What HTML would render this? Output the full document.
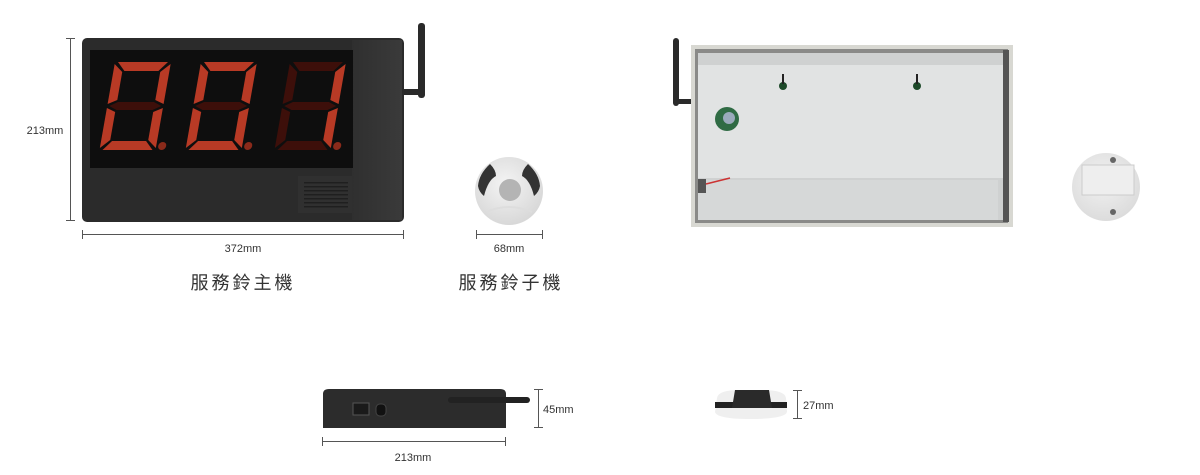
<!DOCTYPE html>
<html><head><meta charset="utf-8"><style>
html,body{margin:0;padding:0;background:#fff;}
svg{display:block;}
text{font-family:"Liberation Sans","Noto Sans CJK TC",sans-serif;fill:#333;}
</style></head><body>
<svg width="1200" height="475" viewBox="0 0 1200 475" xmlns="http://www.w3.org/2000/svg">
<defs>
<radialGradient id="btn" cx="0.45" cy="0.4" r="0.6"><stop offset="0" stop-color="#f4f4f4"/><stop offset="1" stop-color="#d8d8d8"/></radialGradient>
<radialGradient id="bk" cx="0.45" cy="0.4" r="0.6"><stop offset="0" stop-color="#f2f2f2"/><stop offset="1" stop-color="#dcdcdc"/></radialGradient>
<linearGradient id="side" x1="0" x2="1"><stop offset="0" stop-color="#2f2f2f"/><stop offset="1" stop-color="#3a3a3a"/></linearGradient>
</defs>
<rect width="1200" height="475" fill="#fff"/>

<!-- main device -->
<rect x="418" y="23" width="7" height="75" rx="3" fill="#2a2a2a"/>
<rect x="404" y="89" width="20" height="6" fill="#2a2a2a"/>
<rect x="82" y="38" width="322" height="184" rx="5" fill="#2b2b2b"/>
<rect x="352" y="40" width="50" height="180" fill="url(#side)"/>
<rect x="90" y="50" width="263" height="118" fill="#0e0e0e"/>
<rect x="298" y="176" width="54" height="37" fill="#303030"/>
<g fill="#1f1f1f">
<rect x="304" y="182" width="44" height="1.5"/><rect x="304" y="186" width="44" height="1.5"/><rect x="304" y="190" width="44" height="1.5"/><rect x="304" y="194" width="44" height="1.5"/><rect x="304" y="198" width="44" height="1.5"/><rect x="304" y="202" width="44" height="1.5"/><rect x="304" y="206" width="44" height="1.5"/>
</g>
<!-- digits -->
<g transform="translate(115,62) skewX(-10)">
<polygon points="3,0 53,0 45,9 11,9" fill="#b83a25"/>
<polygon points="56,2 56,42 47,38 47,10" fill="#b83a25"/>
<polygon points="56,46 56,86 47,78 47,50" fill="#b83a25"/>
<polygon points="3,88 53,88 45,79 11,79" fill="#b83a25"/>
<polygon points="0,46 9,50 9,78 0,86" fill="#b83a25"/>
<polygon points="0,2 9,10 9,38 0,42" fill="#b83a25"/>
<polygon points="2,44 10,40 46,40 54,44 46,48 10,48" fill="#3d0f0a"/>
<circle cx="62" cy="84" r="4" fill="#8a2a1a"/>
</g>
<g transform="translate(201,62) skewX(-10)">
<polygon points="3,0 53,0 45,9 11,9" fill="#b83a25"/>
<polygon points="56,2 56,42 47,38 47,10" fill="#b83a25"/>
<polygon points="56,46 56,86 47,78 47,50" fill="#b83a25"/>
<polygon points="3,88 53,88 45,79 11,79" fill="#b83a25"/>
<polygon points="0,46 9,50 9,78 0,86" fill="#b83a25"/>
<polygon points="0,2 9,10 9,38 0,42" fill="#b83a25"/>
<polygon points="2,44 10,40 46,40 54,44 46,48 10,48" fill="#3d0f0a"/>
<circle cx="62" cy="84" r="4" fill="#8a2a1a"/>
</g>
<g transform="translate(290,62) skewX(-10)">
<polygon points="3,0 53,0 45,9 11,9" fill="#3d0f0a"/>
<polygon points="56,2 56,42 47,38 47,10" fill="#b83a25"/>
<polygon points="56,46 56,86 47,78 47,50" fill="#b83a25"/>
<polygon points="3,88 53,88 45,79 11,79" fill="#3d0f0a"/>
<polygon points="0,46 9,50 9,78 0,86" fill="#3d0f0a"/>
<polygon points="0,2 9,10 9,38 0,42" fill="#3d0f0a"/>
<polygon points="2,44 10,40 46,40 54,44 46,48 10,48" fill="#3d0f0a"/>
<circle cx="62" cy="84" r="4" fill="#8a2a1a"/>
</g>
<!-- main dims -->
<g stroke="#555" stroke-width="1" fill="none">
<line x1="70.5" y1="38" x2="70.5" y2="221"/><line x1="66" y1="38.5" x2="75" y2="38.5"/><line x1="66" y1="220.5" x2="75" y2="220.5"/>
<line x1="82" y1="234.5" x2="404" y2="234.5"/><line x1="82.5" y1="230" x2="82.5" y2="239"/><line x1="403.5" y1="230" x2="403.5" y2="239"/>
<line x1="476" y1="234.5" x2="543" y2="234.5"/><line x1="476.5" y1="230" x2="476.5" y2="239"/><line x1="542.5" y1="230" x2="542.5" y2="239"/>
</g>
<text x="45" y="134" font-size="11" text-anchor="middle">213mm</text>
<text x="243" y="252" font-size="11" text-anchor="middle">372mm</text>
<text x="509" y="252" font-size="11" text-anchor="middle">68mm</text>
<text x="243" y="289" font-size="18" text-anchor="middle" letter-spacing="3">服務鈴主機</text>
<text x="511" y="289" font-size="18" text-anchor="middle" letter-spacing="3">服務鈴子機</text>

<!-- button top -->
<circle cx="509" cy="191" r="34" fill="url(#btn)"/>
<path d="M478,186 Q479,174 490,164 Q496,170 496,176 Q488,180 484,196 Q479,192 478,186 Z" fill="#333"/>
<path d="M540,186 Q539,174 528,164 Q522,170 522,176 Q530,180 534,196 Q539,192 540,186 Z" fill="#333"/>
<circle cx="510" cy="190" r="11" fill="#b4b4b4"/>
<path d="M486,212 Q509,202 532,212" stroke="#ddd" stroke-width="2" fill="none"/>

<!-- back view -->
<rect x="673" y="38" width="6" height="68" rx="3" fill="#2a2a2a"/>
<rect x="676" y="99" width="17" height="5" fill="#2a2a2a"/>
<rect x="691" y="45" width="322" height="182" fill="#d8d8d2"/>
<rect x="695" y="49" width="313" height="174" fill="#8a8a88"/>
<rect x="698" y="53" width="305" height="167" fill="#cfd1d1"/>
<rect x="698" y="65" width="305" height="113" fill="#e1e3e3"/>
<rect x="698" y="180" width="300" height="40" fill="#d6d8d8"/>
<rect x="1003" y="50" width="6" height="172" fill="#555"/>
<circle cx="727" cy="119" r="12" fill="#2f6b44"/>
<circle cx="729" cy="118" r="6" fill="#9ab"/>
<circle cx="783" cy="86" r="4" fill="#1d4a2a"/><rect x="782" y="74" width="2" height="10" fill="#222"/>
<circle cx="917" cy="86" r="4" fill="#1d4a2a"/><rect x="916" y="74" width="2" height="10" fill="#222"/>
<rect x="698" y="179" width="8" height="14" fill="#555"/>
<path d="M706,184 L730,178" stroke="#c33" stroke-width="1.5"/>

<!-- round back -->
<circle cx="1106" cy="187" r="34" fill="url(#bk)"/>
<rect x="1082" y="165" width="52" height="30" fill="#eee" stroke="#ccc"/>
<circle cx="1113" cy="160" r="3" fill="#666"/>
<circle cx="1113" cy="212" r="3" fill="#666"/>

<!-- side view -->
<path d="M323,428 L323,394 Q323,389 329,389 L500,389 Q506,389 506,394 L506,428 Z" fill="#2c2c2c"/>
<rect x="448" y="397" width="82" height="6" rx="3" fill="#222"/>
<rect x="353" y="403" width="16" height="12" fill="#1a1a1a" stroke="#555"/>
<rect x="376" y="404" width="10" height="12" rx="4" fill="#111" stroke="#444"/>
<g stroke="#555" stroke-width="1">
<line x1="538.5" y1="389" x2="538.5" y2="428"/><line x1="534" y1="389.5" x2="543" y2="389.5"/><line x1="534" y1="427.5" x2="543" y2="427.5"/>
<line x1="322" y1="441.5" x2="505" y2="441.5"/><line x1="322.5" y1="437" x2="322.5" y2="446"/><line x1="505.5" y1="437" x2="505.5" y2="446"/>
<line x1="797.5" y1="390" x2="797.5" y2="419"/><line x1="793" y1="390.5" x2="802" y2="390.5"/><line x1="793" y1="418.5" x2="802" y2="418.5"/>
</g>
<text x="543" y="413" font-size="11">45mm</text>
<text x="413" y="461" font-size="11" text-anchor="middle">213mm</text>
<text x="803" y="409" font-size="11">27mm</text>

<!-- small side -->
<path d="M717,398 Q718,390 740,390 L762,390 Q785,390 786,398 L787,412 Q785,419 750,419 Q717,419 715,412 Z" fill="#efefef"/>
<rect x="715" y="402" width="72" height="6" fill="#222"/>
<path d="M735,390 L769,390 L772,408 L732,408 Z" fill="#2a2a2a"/>
</svg>
</body></html>
